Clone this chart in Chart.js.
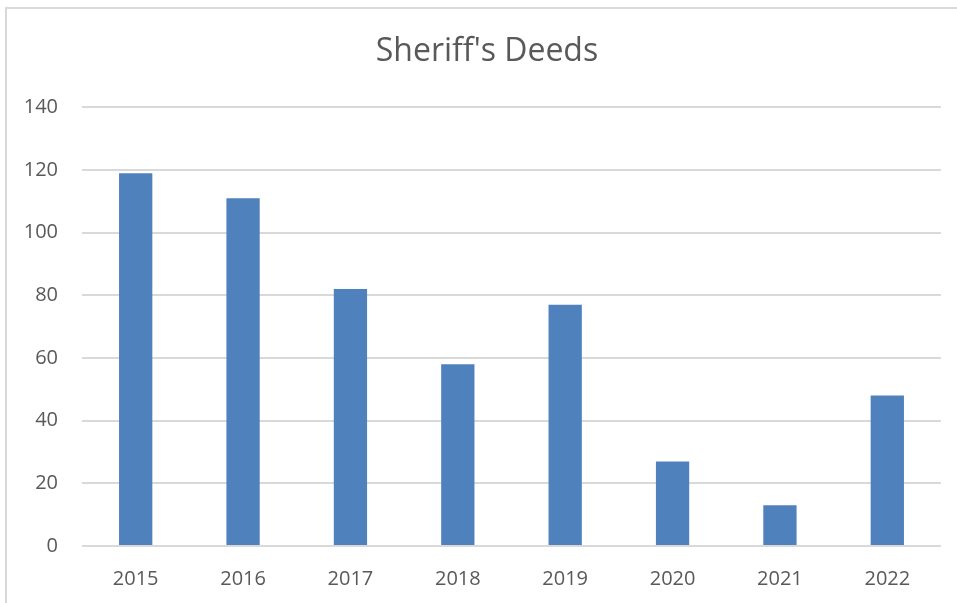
<!DOCTYPE html>
<html>
<head>
<meta charset="utf-8">
<script src="https://cdn.jsdelivr.net/npm/chart.js@4"></script>
<style>
  body { margin:0; background:#fff; }
  #frame { position:absolute; left:5px; top:7px; width:952px; height:596px; border:2px solid #d9d9d9; border-right:none; border-bottom:none; box-sizing:border-box; }
  #wrap { position:absolute; left:0; top:0; width:957px; height:603px; }
</style>
</head>
<body>
<div id="frame"></div>
<div id="wrap"><canvas id="chart"></canvas></div>
<script>
const years  = ["2015", "2016", "2017", "2018", "2019", "2020", "2021", "2022"];
const deeds  = [119, 111, 82, 58, 77, 27, 13, 48];
const yTicks = [0, 20, 40, 60, 80, 100, 120, 140];

const font = "'Open Sans', 'Noto Sans', sans-serif";

// the title in the original sits a bit right of the canvas centre
const shiftTitle = {
  id: "shiftTitle",
  afterLayout(chart) {
    if (chart.titleBlock) chart.titleBlock.left += 33;
  },
};

new Chart(document.getElementById("chart").getContext("2d"), {
  type: "bar",
  data: {
    labels: years,
    datasets: [{
      label: "Sheriff's Deeds",
      data: deeds,
      backgroundColor: "#4f81bd",
      borderWidth: 0,
      categoryPercentage: 1,
      barPercentage: 0.31,
    }],
  },
  plugins: [shiftTitle],
  options: {
    responsive: true,
    maintainAspectRatio: false,
    animation: false,
    layout: { padding: { left: 0, right: 16, top: 0, bottom: -1 } },
    plugins: {
      legend: { display: false },
      tooltip: { enabled: false },
      title: {
        display: true,
        text: "Sheriff's Deeds",
        color: "#595959",
        font: { family: font, size: 32, weight: "normal" },
        padding: { top: 33, bottom: 36 },
      },
    },
    scales: {
      x: {
        grid: { display: false },
        border: { display: false },
        ticks: { color: "#595959", font: { family: font, size: 20 }, padding: 13 },
      },
      y: {
        min: yTicks[0],
        max: yTicks[yTicks.length - 1],
        afterBuildTicks: (ax) => { ax.ticks = yTicks.map(v => ({ value: v })); },
        afterFit: (ax) => { ax.width = 82; },
        grid: { color: "#d9d9d9", lineWidth: 2, drawTicks: false },
        border: { display: false },
        ticks: { color: "#595959", font: { family: font, size: 20 }, padding: 24 },
      },
    },
  },
});
</script>
</body>
</html>
